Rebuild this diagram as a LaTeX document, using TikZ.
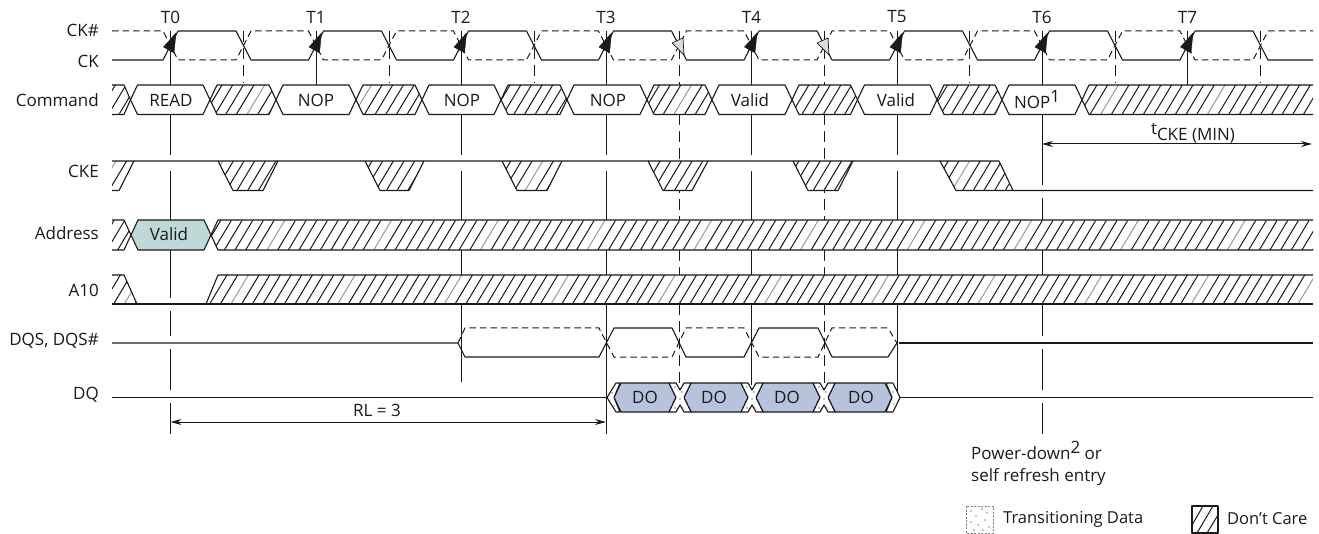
\documentclass[tikz,border=0pt]{standalone}
\usepackage{fontspec}
\setmainfont{Open Sans}
\usetikzlibrary{arrows.meta,positioning,calc}
\definecolor{Ink}{HTML}{1A1A1A}
\definecolor{Teal}{HTML}{BFD9D9}
\definecolor{Steel}{HTML}{B5C3DD}
\definecolor{Pale}{HTML}{D6DEE0}
% one row of diagonal strokes, cut to the given outlines
\newcommand{\hatchrow}[4]{%
  \begin{scope}
    \clip #1;
    \fill[white] (0,#4) rectangle (1319,#3);
    \foreach \hk in {-30,...,100}{%
      \ifnum\numexpr\hk/10*10\relax=\hk \def\hcol{black!40}\else\def\hcol{Ink}\fi
      \draw[hatchline,color=\hcol] (#2+10.67*\hk,#3) -- ++(17.7,-29.5);
    }
  \end{scope}}
\newcommand{\hexpath}[3]{(#1,#3+14.75)--(#1+7,#3)--(#2-7,#3)--(#2,#3+14.75)--(#2-7,#3+29.5)--(#1+7,#3+29.5)--cycle}
\newcommand{\tline}[2]{\foreach \ya/\yb in {#2}{\draw[tickline] (#1,\ya)--(#1,\yb);}}
\begin{document}
\begin{tikzpicture}[x=1pt,y=-1pt,
  sig/.style={draw=Ink,line width=1.1pt,line join=round},
  ghost/.style={draw=Ink,line width=1pt,dash pattern=on 6.5pt off 4pt},
  tickline/.style={draw=Ink,line width=1pt},
  halfline/.style={draw=Ink,line width=1pt,dash pattern=on 11pt off 6pt},
  hatchline/.style={line width=1pt},
  rowlabel/.style={anchor=east,text=Ink,font=\fontsize{17}{22}\selectfont,inner sep=0pt},
  celltext/.style={text=Ink,font=\fontsize{17}{22}\selectfont,inner sep=0pt},
  dim/.style={draw=Ink,line width=1pt,{Stealth[length=11pt,width=6pt]}-{Stealth[length=11pt,width=6pt]}},
  speck/.style={fill=black!45,draw=none,circle,minimum size=1.6pt,inner sep=0pt}]
  \useasboundingbox (0,0) rectangle (1319,534);

  % vertical guides first, the rows paint over them
  \tline{170.5}{31/85,114/155,171/220,250/298,311/336,349/390,403/434}
  \tline{316}{31/85}
  \tline{461}{31/85,114/155,171/220,250/275,304/382}
  \tline{606}{31/85,114/155,171/220,250/275,304/434}
  \tline{751.5}{31/85,114/155,171/220,250/275,304/385}
  \tline{897}{31/85,114/155,171/220,250/275,304/393}
  \tline{1042}{31/85,114/185,198/220,250/275,304/336,349/390,403/434}
  \tline{1187.5}{31/85}
  \foreach \hx in {243.5,389,534,969.5,1115,1260}{\draw[halfline] (\hx,31)--(\hx,83);}
  \foreach \hx in {679,824}{%
    \draw[halfline] (\hx,31)--(\hx,85);
    \draw[halfline] (\hx,114)--(\hx,220);
    \draw[halfline] (\hx,250)--(\hx,275);
    \draw[halfline] (\hx,304)--(\hx,390);
  }

  % clock pair
  \draw[sig] (112,60)
    \foreach \tx in {170.5,316,461,606,751.5,897,1042,1187.5}{
      --(\tx-7.5,60)--(\tx+7.5,31)--(\tx+65.5,31)--(\tx+80.5,60)} --(1313,60);
  \draw[ghost] (112,31)
    \foreach \tx in {170.5,316,461,606,751.5,897,1042,1187.5}{
      --(\tx-7.5,31)--(\tx+7.5,60)--(\tx+65.5,60)--(\tx+80.5,31)} --(1313,31);
  \foreach \tx in {170.5,316,461,606,751.5,897,1042,1187.5}{
    \fill[Ink,draw=Ink,line join=round] (\tx-7,47)--(\tx+5.5,33)--(\tx+3.5,53)--cycle;}
  \foreach \hx in {679,824}{
    \filldraw[fill=Pale,draw=Ink,line width=0.7pt,line join=round] (\hx-7,43)--(\hx+4,38)--(\hx+5,55)--cycle;}
  \foreach \tx/\tn in {170.5/0,316/1,461/2,606/3,751.5/4,897/5,1042/6,1187.5/7}{
    \node[celltext] (clk\tn) at (\tx,17) {T\tn};}

  % command row
  \hatchrow{(112,85)--(124,85)--(130.5,99.75)--(124,114.5)--(112,114.5)--cycle
    \hexpath{210}{276}{85} \hexpath{356}{422}{85} \hexpath{501}{567}{85}
    \hexpath{647}{712}{85} \hexpath{792}{857.5}{85} \hexpath{937}{1002}{85}
    (1082,99.75)--(1089,85)--(1313,85)--(1313,114.5)--(1089,114.5)--cycle}{247}{114.5}{85}
  \draw[sig] (112,85)--(124,85)--(130.5,99.75)--(124,114.5)--(112,114.5);
  \foreach \ca/\cb in {210/276,356/422,501/567,647/712,792/857.5,937/1002}{
    \draw[sig] \hexpath{\ca}{\cb}{85};}
  \draw[sig] (1313,85)--(1089,85)--(1082,99.75)--(1089,114.5)--(1313,114.5);
  \foreach \ca/\cb in {130.5/210,276/356,422/501,567/647,712/792,857.5/937,1002/1082}{
    \filldraw[sig,fill=white] \hexpath{\ca}{\cb}{85};}
  \node[celltext] (cmdread) at (171,100) {READ};
  \node[celltext] (cmdnopa) at (316,100) {NOP};
  \node[celltext] (cmdnopb) at (462,100) {NOP};
  \node[celltext] (cmdnopc) at (608,100) {NOP};
  \node[celltext] (cmdvala) at (750,100) {Valid};
  \node[celltext] (cmdvalb) at (896,100) {Valid};
  \node[celltext] (cmdnopd) at (1037,100) {NOP\raisebox{6pt}{1}};
  \node[celltext] (tcke) at (1193,133) {\raisebox{6pt}{t}CKE (MIN)};
  \coordinate (tckea) at (1042,144);
  \coordinate (tckeb) at (1312,144);
  \draw[dim] (tckea)--(tckeb);

  % CKE
  \hatchrow{(112,161)--(134,161)--(119,190.5)--(112,190.5)--cycle
    (218,161)--(233,190.5)--(263,190.5)--(278,161)--cycle
    (365,161)--(380,190.5)--(409,190.5)--(424,161)--cycle
    (502,161)--(517,190.5)--(547,190.5)--(562,161)--cycle
    (648,161)--(663,190.5)--(692,190.5)--(708,161)--cycle
    (793,161)--(808,190.5)--(838,190.5)--(853,161)--cycle
    (940,161)--(956,190.5)--(1013,190.5)--(999,161)--cycle}{205}{190.5}{161}
  \draw[sig] (112,161)--(999,161)--(1013,190.5)--(1313,190.5);
  \draw[sig] (134,161)--(119,190.5)--(112,190.5);
  \draw[sig] (218,161)--(233,190.5)--(263,190.5)--(278,161);
  \draw[sig] (365,161)--(380,190.5)--(409,190.5)--(424,161);
  \draw[sig] (502,161)--(517,190.5)--(547,190.5)--(562,161);
  \draw[sig] (648,161)--(663,190.5)--(692,190.5)--(708,161);
  \draw[sig] (793,161)--(808,190.5)--(838,190.5)--(853,161);
  \draw[sig] (940,161)--(956,190.5)--(1013,190.5);

  % address
  \hatchrow{(112,220)--(124,220)--(131,235)--(124,250)--(112,250)--cycle
    (211,235)--(218,220)--(1313,220)--(1313,250)--(218,250)--cycle}{267}{250}{220}
  \draw[sig] (112,220)--(124,220)--(131,235)--(124,250)--(112,250);
  \draw[sig] (1313,220)--(218,220)--(211,235)--(218,250)--(1313,250);
  \filldraw[sig,fill=Teal] (131,235)--(138,220)--(204,220)--(211,235)--(204,250)--(138,250)--cycle;
  \node[celltext] (addrvalid) at (169,234) {Valid};

  % A10
  \hatchrow{(112,275)--(124,275)--(137,304)--(112,304)--cycle
    (206,304)--(218,275)--(1313,275)--(1313,304)--cycle}{231}{304}{275}
  \draw[sig] (112,304)--(1313,304);
  \draw[sig] (112,275)--(124,275)--(137,304);
  \draw[sig] (206,304)--(218,275)--(1313,275);

  % strobes
  \draw[sig] (112,343)--(458,343)--(465,357)--(599,357)--(614,328)--(672,328)--(686,357)--(744,357)--(759,328)--(818,328)--(832,357)--(888,357)--(897,343);
  \draw[sig] (899,343)--(1313,343);
  \draw[ghost] (458,343)--(465,328)--(599,328)--(614,357)--(672,357)--(686,328)--(744,328)--(759,357)--(818,357)--(832,328)--(888,328)--(897,343);

  % data
  \draw[sig] (112,397.5)--(607,397.5);
  \draw[sig] (900,397.5)--(1313,397.5);
  \foreach \ca/\cb in {614/676,684/748,756/820,828/892}{
    \filldraw[sig,fill=Steel] (\ca,397.5)--(\ca+7,383)--(\cb-7,383)--(\cb,397.5)--(\cb-7,412)--(\ca+7,412)--cycle;}
  \foreach \cx in {680,752,824}{
    \filldraw[sig,fill=white] (\cx-11,383)--(\cx-4,383)--(\cx,390)--(\cx+4,383)--(\cx+11,383)--(\cx+4,397.5)
      --(\cx+11,412)--(\cx+4,412)--(\cx,405)--(\cx-4,412)--(\cx-11,412)--(\cx-4,397.5)--cycle;
    \foreach \dx/\dy in {-5/387,2/392,0/399,3/408,-5/408}{\node[speck] at (\cx+\dx,\dy) {};}
  }
  \filldraw[sig,fill=white] (616,383)--(620,383)--(614,397.5)--(620,412)--(616,412)--(607,397.5)--cycle;
  \filldraw[sig,fill=white] (886,383)--(893,383)--(900,397.5)--(893,412)--(886,412)--(892,397.5)--cycle;
  \foreach \dx/\dy in {612/393,614/406,893/392,894/404}{\node[speck] at (\dx,\dy) {};}
  \foreach \dx/\dn in {645/a,714/b,787/c,861/d}{\node[celltext] (dq\dn) at (\dx,397) {DO};}

  % RL span
  \coordinate (rla) at (170.5,422);
  \coordinate (rlb) at (606,422);
  \draw[dim] (rla)--(rlb);
  \node[celltext] (rl) at (377,410) {RL = 3};

  % row names
  \node[rowlabel] (lckn) at (99,30) {CK\#};
  \node[rowlabel] (lck)  at (99,61) {CK};
  \node[rowlabel] (lcmd) at (99,100) {Command};
  \node[rowlabel] (lcke) at (99,171) {CKE};
  \node[rowlabel] (ladr) at (99,233) {Address};
  \node[rowlabel] (la10) at (99,290) {A10};
  \node[rowlabel] (ldqs) at (99,341) {DQS, DQS\#};
  \node[rowlabel] (ldq)  at (99,395) {DQ};

  \node[celltext,anchor=west,align=left] (entry) at (971,463)
    {Power-down\raisebox{6pt}{2} or\\self refresh entry};

  % legend
  \draw[draw=black!50,line width=0.7pt,dash pattern=on 2pt off 1.5pt] (966,506) rectangle (993,533);
  \foreach \dx/\dy in {971/511,976/516,982/509,987/513,971/522,978/525,985/520,989/527,974/530,983/530}{\node[speck] at (\dx,\dy) {};}
  \node[celltext,anchor=west,font=\fontsize{16.5}{20}\selectfont] (legdata) at (1003,519) {Transitioning Data};
  \draw[sig] (1192,506) rectangle (1218,533);
  \draw[hatchline,draw=Ink] (1192,525)--(1203,506) (1197,533)--(1213,506) (1207,533)--(1218,515);
  \node[celltext,anchor=west,font=\fontsize{16.5}{20}\selectfont] (legcare) at (1227,519) {Don’t Care};
\end{tikzpicture}
\end{document}
